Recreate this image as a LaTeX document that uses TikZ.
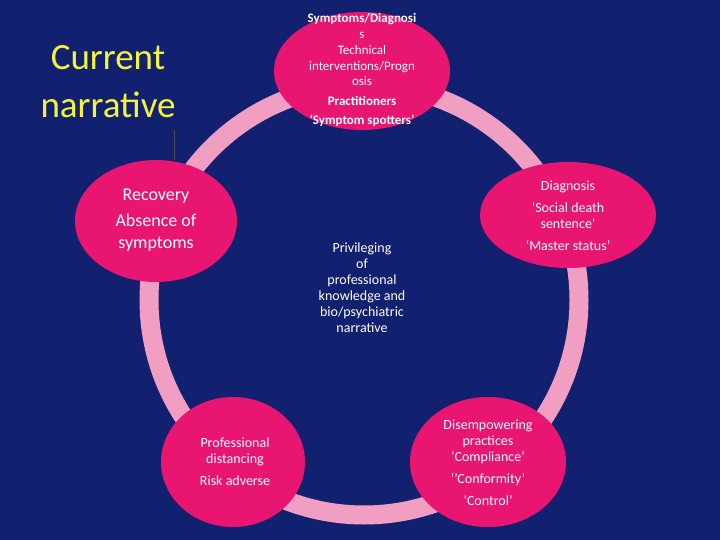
\documentclass[tikz,border=0pt]{standalone}
\usepackage{fontspec}
\setmainfont{Carlito}
\definecolor{bgblue}{RGB}{18,32,112}
\definecolor{hotpink}{RGB}{232,22,112}
\definecolor{ringpink}{RGB}{240,158,194}
\definecolor{titleyellow}{RGB}{244,244,60}
\tikzset{
  bubble/.style={ellipse,fill=hotpink,text=white,align=center,font=\fontsize{13}{15}\selectfont,inner sep=0pt},
  txt/.style={text=white,align=center,font=\fontsize{14}{16}\selectfont}
}
\usetikzlibrary{shapes.geometric}
\begin{document}
\begin{tikzpicture}[x=1pt,y=-1pt]

% Background and frame...
\fill[bgblue] (0,0) rectangle (720,540);
\useasboundingbox (0,0) rectangle (720,540);

% The ring...
\draw[ringpink,line width=19pt] (364,300) circle [radius=215];

% Title...
\node (title) at (108,82) [text=titleyellow,align=center,font=\fontsize{37}{48}\selectfont] {Current\\narrative};
\coordinate (tick1) at (174,130);
\coordinate (tick2) at (174,160);
\draw[black!70] (tick1) -- (tick2);

% Draw the bubbles...
\node (top) at (362,71) [bubble,minimum width=176pt,minimum height=118pt] {};
\node (right) at (568,215) [bubble,minimum width=176pt,minimum height=106pt] {};
\node (brt) at (488,462) [bubble,minimum width=156pt,minimum height=130pt] {};
\node (blt) at (233,462) [bubble,minimum width=144pt,minimum height=130pt] {};
\node (left) at (156,221) [bubble,minimum width=162pt,minimum height=122pt] {};

% Put the texts...
\node (ttop) at (362,70) [txt,font=\fontsize{13}{15.5}\selectfont] {\textbf{Symptoms/Diagnosi}\\s\\[1pt]Technical\\interventions/Progn\\osis\\[4pt]\textbf{Practitioners}\\[4pt]\textbf{‘Symptom spotters’}};
\node (tright) at (568,216) [txt] {Diagnosis\\[6pt]‘Social death\\sentence’\\[6pt]‘Master status’};
\node (tbrt) at (488,463) [txt] {Disempowering\\practices\\‘Compliance’\\[6pt]‘’Conformity’\\[6pt]‘Control’};
\node (tblt) at (235,462) [txt] {Professional\\distancing\\[6pt]Risk adverse};
\node (tleft) at (156,220) [txt,font=\fontsize{18}{22}\selectfont] {Recovery\\[4pt]Absence of\\symptoms};
\node (centre) at (362,288) [txt] {Privileging\\of\\professional\\knowledge and\\bio/psychiatric\\narrative};

\end{tikzpicture}
\end{document}
